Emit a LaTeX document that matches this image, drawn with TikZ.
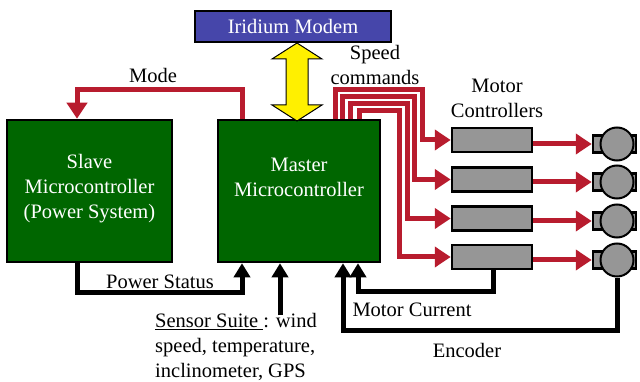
\documentclass[tikz,border=0pt]{standalone}
\usepackage{fontspec}
\setmainfont{Liberation Serif}
\usepackage{xcolor}
\usepackage{tikz}
\usetikzlibrary{positioning, arrows.meta, calc}
\definecolor{boxgreen}{RGB}{0,102,0}
\definecolor{cmdred}{RGB}{184,28,46}
\definecolor{modemblue}{RGB}{70,70,170}
\definecolor{partgray}{RGB}{150,150,150}
\definecolor{linkyellow}{RGB}{255,240,0}

\begin{document}
\begin{tikzpicture}[x=1pt, y=-1pt, font=\fontsize{20.5}{25}\selectfont,
    redarrow/.style={draw=cmdred, line width=5pt, -{Triangle[length=16pt, width=20pt]}},
    blkarrow/.style={draw=black, line width=5pt, -{Triangle[length=14pt, width=16pt]}},
    mcubox/.style={draw, line width=2.5pt, fill=boxgreen, minimum height=142pt, inner sep=0pt},
    ctlbox/.style={draw, line width=2.5pt, fill=partgray, minimum width=80pt, minimum height=24pt, inner sep=0pt},
    lbl/.style={align=center, inner sep=0pt}]
        \useasboundingbox (0,0) rectangle (640,382);

        % Microcontrollers and modem
        \node[mcubox, minimum width=165pt] (slave) at (89.5,191) {};
        \node[mcubox, minimum width=162pt] (master) at (299,191) {};
        \node[lbl, text=white] (slavetxt) at (89.5,189) {Slave\\Microcontroller\\(Power System)};
        \node[lbl, text=white] (mastertxt) at (299,177) {Master\\Microcontroller};
        \node[draw, line width=2pt, fill=modemblue, text=white, minimum width=196pt, minimum height=31pt,
            inner sep=0pt] (modem) at (293,26.5) {Iridium Modem};

        % Motor controllers and motors
        \foreach \i/\yc/\ym in {1/140/144, 2/179.5/182, 3/218.5/221, 4/257/260} {
            \node[ctlbox] (ctl\i) at (492,\yc) {};
            \node[draw, line width=2.5pt, fill=partgray, minimum width=43pt, minimum height=17pt,
                inner sep=0pt] (stub\i) at (614.5,\ym) {};
            \node[draw, circle, line width=2pt, fill=partgray, minimum size=33pt, inner sep=0pt] (motor\i) at (617,\ym) {};
            \draw[redarrow] (ctl\i.east |- stub\i.west) -- (stub\i.west);
        }

        % Two-way link to the modem
        \coordinate (linkx) at (297,0);
        \filldraw[fill=linkyellow, draw=black, line width=1pt] (modem.south -| linkx) -- ++(25,16) -- ++(-14,0)
            -- ++(0,46) -- ++(14,0) -- ++(-25,16) -- ++(-25,-16) -- ++(14,0) -- ++(0,-46) -- ++(-14,0) -- cycle;

        % Mode line
        \coordinate (modeA) at (242,90);
        \coordinate (modeB) at (77,90);
        \draw[redarrow] (master.north -| modeA) -- (modeA) -- (modeB) -- (slave.north -| modeB);
        \node (modelbl) at (153,75) {Mode};

        % Speed commands
        \foreach \i/\xa/\ya/\xb in {1/335/89.5/422, 2/342.5/97/414.5, 3/350.5/104/407, 4/359/111/399} {
            \coordinate (cmd\i a) at (\xa,\ya);
            \coordinate (cmd\i b) at (\xb,\ya);
            \draw[redarrow] (master.north -| cmd\i a) -- (cmd\i a) -- (cmd\i b) |- (ctl\i.west);
        }
        \node[lbl] (cmdlbl) at (375,65) {Speed\\commands};
        \node[lbl] (ctllbl) at (497,98) {Motor\\Controllers};

        % Power status
        \coordinate (powA) at (77,292);
        \coordinate (powB) at (242,292);
        \draw[blkarrow] (slave.south -| powA) -- (powA) -- (powB) -- (master.south -| powB);
        \node (powlbl) at (160,282) {Power Status};

        % Sensor suite
        \coordinate (sensA) at (280,315);
        \draw[blkarrow] (sensA) -- (master.south -| sensA);
        \node[align=left, anchor=north west, inner sep=0pt] (senslbl) at (155,313)
            {\underline{Sensor Suite\ }: wind\\speed, temperature,\\inclinometer, GPS};

        % Motor current
        \coordinate (curA) at (493,291);
        \coordinate (curB) at (358,291);
        \draw[blkarrow] (ctl4.south -| curA) -- (curA) -- (curB) -- (master.south -| curB);
        \node (curlbl) at (412,310) {Motor Current};

        % Encoder
        \coordinate (encB) at (343,330);
        \draw[blkarrow] (motor4.south) -- (motor4.south |- encB) -- (encB) -- (master.south -| encB);
        \node (enclbl) at (467,350) {Encoder};
    \end{tikzpicture}
\end{document}
